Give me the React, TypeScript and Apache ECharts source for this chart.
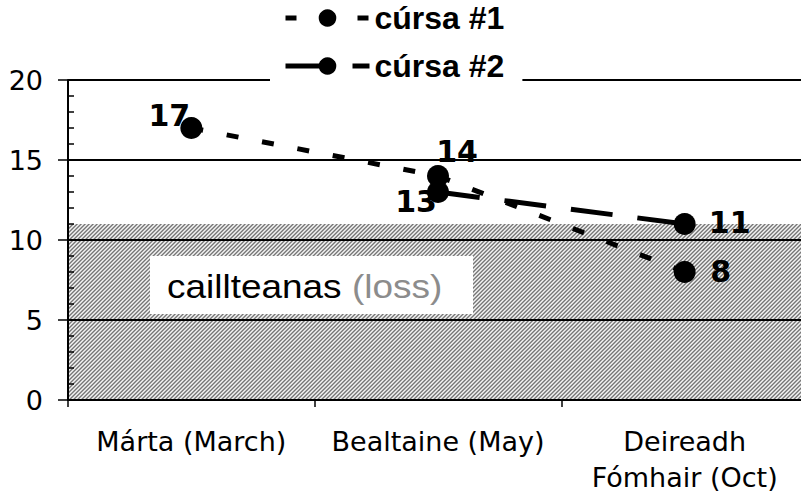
import React, { useEffect, useRef } from 'react';
import * as echarts from 'echarts';

const categories = ['Márta (March)', 'Bealtaine (May)', 'Deireadh\nFómhair (Oct)'];
const seriesNames = ['cúrsa #1', 'cúrsa #2'];
const course1 = [17, 14, 8];
const course2: (number | null)[] = [null, 13, 11];
const lossRange = [0, 11];
const yMin = 0;
const yMax = 20;
const yInterval = 5;
const lossWord = 'caillteanas';
const lossGloss = '(loss)';

function makeHatch(): HTMLCanvasElement {
  const n = 4;
  const c = document.createElement('canvas');
  c.width = n;
  c.height = n;
  const ctx = c.getContext('2d')!;
  const img = ctx.createImageData(n, n);
  const shades = [0x78, 0xa4, 0xf2, 0xcc];
  for (let y = 0; y < n; y++) {
    for (let x = 0; x < n; x++) {
      const v = shades[(x + y) % n];
      const i = (y * n + x) * 4;
      img.data[i] = v;
      img.data[i + 1] = v;
      img.data[i + 2] = v;
      img.data[i + 3] = 255;
    }
  }
  ctx.putImageData(img, 0, 0);
  return c;
}

export default function App() {
  const ref = useRef<HTMLDivElement>(null);
  useEffect(() => {
    if (!ref.current) return;
    const chart = echarts.init(ref.current, undefined, { renderer: 'svg' });
    const hatch = makeHatch();
    const off1 = [[-22, -13], [19, -25], [36, -1]];
    const off2 = [[0, 0], [-22, 9], [45, -2]];
    const labelFont = {
      fontFamily: 'DejaVu Sans',
      fontWeight: 'bold' as const,
      fontSize: 30,
      color: '#000',
    };
    const legendBase = {
      orient: 'vertical',
      left: 270,
      itemWidth: 84,
      itemHeight: 22,
      selectedMode: false,
      textStyle: {
        fontFamily: 'Liberation Sans',
        fontWeight: 'bold',
        fontSize: 32,
        color: '#000',
        padding: [12, 0, 0, 0],
      },
    };
    chart.setOption({
      animation: false,
      backgroundColor: '#fff',
      grid: {
        left: 68,
        right: -7,
        top: 80,
        bottom: 92,
        containLabel: false,
        outerBoundsMode: 'none',
      },
      legend: [
        {
          ...legendBase,
          top: 2,
          padding: [0, 18, 2, 13],
          data: [
            { name: seriesNames[0], lineStyle: { type: [11, 61], width: 5, color: '#000', cap: 'butt' } },
          ],
        },
        {
          ...legendBase,
          top: 50,
          padding: [0, 18, 8, 13],
          backgroundColor: '#fff',
          data: [
            { name: seriesNames[1], lineStyle: { type: [40, 27, 17, 10], width: 5, color: '#000', cap: 'butt' } },
          ],
        },
      ],
      xAxis: {
        type: 'category',
        data: categories,
        boundaryGap: true,
        axisLine: { lineStyle: { color: '#000', width: 2 } },
        axisTick: { show: true, length: 7, lineStyle: { color: '#000', width: 1.5 } },
        axisLabel: {
          interval: 0,
          fontFamily: 'DejaVu Sans',
          fontSize: 27,
          color: '#000',
          margin: 23,
          lineHeight: 36,
        },
        splitLine: { show: false },
      },
      yAxis: [
        {
          type: 'value',
          min: yMin,
          max: yMax,
          interval: yInterval,
          axisLine: { show: true, lineStyle: { color: '#000', width: 2 } },
          axisTick: { show: true, length: 10, lineStyle: { color: '#000', width: 1.5 } },
          axisLabel: { fontFamily: 'DejaVu Sans', fontSize: 27, color: '#000', margin: 25 },
          splitLine: { show: true, lineStyle: { color: '#000', width: 2 } },
        },
        {
          type: 'value',
          position: 'left',
          min: yMin,
          max: yMax,
          interval: 1,
          axisLine: { show: false },
          axisTick: { show: true, inside: true, length: 6, lineStyle: { color: '#000', width: 1.5 } },
          axisLabel: { show: false },
          splitLine: { show: false },
        },
      ],
      graphic: [
        {
          type: 'rect',
          left: 150,
          top: 256,
          z: 10,
          shape: { x: 0, y: 0, width: 323, height: 58 },
          style: { fill: '#fff' },
        },
        {
          type: 'text',
          left: 167,
          top: 270,
          z: 11,
          scaleX: 1.12,
          style: {
            text: `{a|${lossWord}} {b|${lossGloss}}`,
            rich: {
              a: { fontFamily: 'Liberation Sans', fontSize: 33, fill: '#000' },
              b: { fontFamily: 'Liberation Sans', fontSize: 33, fill: '#8c8c8c' },
            },
            fontFamily: 'Liberation Sans',
            fontSize: 33,
          },
        },
      ],
      series: [
        {
          name: 'loss',
          type: 'line',
          data: [],
          z: -1,
          silent: true,
          markArea: {
            silent: true,
            z: -1,
            itemStyle: {
              color: { image: hatch, repeat: 'repeat', imageWidth: 4, imageHeight: 4 },
            },
            data: [[{ yAxis: lossRange[0] }, { yAxis: lossRange[1] }]],
          },
        },
        {
          name: seriesNames[0],
          type: 'line',
          symbol: 'circle',
          symbolSize: 22,
          itemStyle: { color: '#000' },
          lineStyle: { color: '#000', width: 5, type: [12, 24], cap: 'butt' },
          label: { show: true, position: 'inside', ...labelFont },
          data: course1.map((v, i) => ({ value: v, label: { offset: off1[i] } })),
        },
        {
          name: seriesNames[1],
          type: 'line',
          symbol: 'circle',
          symbolSize: 22,
          itemStyle: { color: '#000' },
          lineStyle: { color: '#000', width: 5, type: [42, 25], cap: 'butt' },
          label: { show: true, position: 'inside', ...labelFont },
          data: course2.map((v, i) => ({ value: v, label: { offset: off2[i] } })),
        },
      ],
    });
    return () => chart.dispose();
  }, []);
  return (
    <div
      ref={ref}
      style={{ position: 'absolute', left: 0, top: 0, width: 801, height: 492 }}
    />
  );
}
